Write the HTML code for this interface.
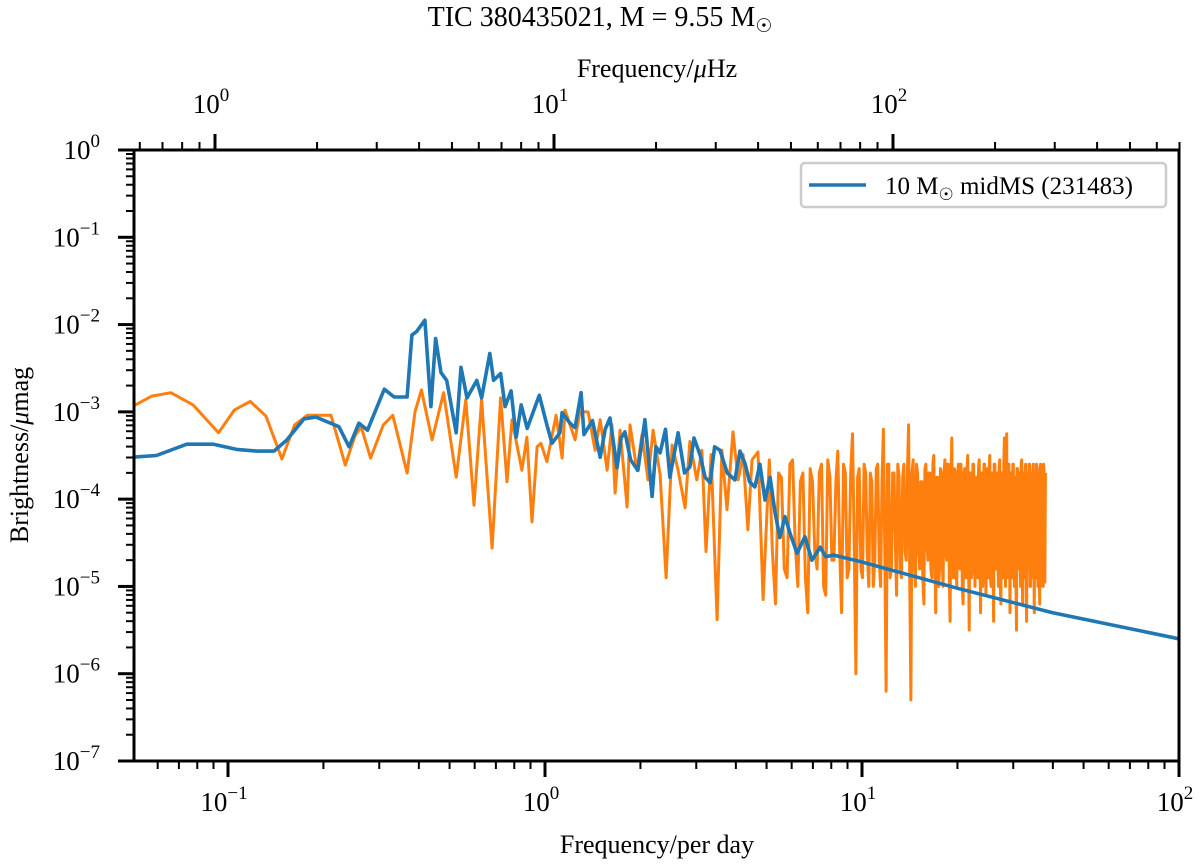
<!DOCTYPE html>
<html><head><meta charset="utf-8"><style>
html,body{margin:0;padding:0;background:#fff;}
svg{display:block;font-family:"Liberation Serif","DejaVu Serif",serif;}
</style></head><body>
<svg id="chart" width="1200" height="864" viewBox="0 0 1200 864" xmlns="http://www.w3.org/2000/svg">
<text x="600" y="26" text-anchor="middle" font-size="28">TIC 380435021, M = 9.55 M<tspan font-size="19" dy="6">☉</tspan></text>
<text x="657" y="77" text-anchor="middle" font-size="26">Frequency/<tspan font-style="italic">μ</tspan>Hz</text>
<text x="657" y="853" text-anchor="middle" font-size="26">Frequency/per day</text>
<text transform="translate(28,455) rotate(-90)" text-anchor="middle" font-size="26">Brightness/<tspan font-style="italic">μ</tspan>mag</text>
<defs><clipPath id="plotclip"><rect x="134" y="150" width="1045" height="611"/></clipPath></defs>
<g id="series" clip-path="url(#plotclip)"></g>
<g id="axes"></g>
<g>
<rect x="801" y="163" width="365" height="44" rx="4" fill="#fff" stroke="#cccccc" stroke-width="2.5"/>
<line x1="809" y1="185" x2="866" y2="185" stroke="#1f77b4" stroke-width="3.5"/>
<text x="885" y="194" font-size="25">10 M<tspan font-size="17" dy="6">☉</tspan><tspan dy="-6"> midMS (231483)</tspan></text>
</g>
</svg>
<script>
// ---- data (log10 units: per-day frequency, μmag amplitude) ----
const orangeLowLogF = [-1.297,-1.24,-1.18,-1.11,-1.03,-0.98,-0.93,-0.88,-0.83,-0.79,-0.75,-0.675,-0.63,-0.6,-0.58,-0.55,-0.51,-0.48,-0.435,-0.41,-0.39,-0.356,-0.32,-0.28,-0.25,-0.224,-0.2,-0.167,-0.14,-0.12,-0.104,-0.073,-0.057,-0.041,-0.025,-0.013,
0.006,0.035,0.054,0.063,0.095,0.110,0.136,0.158,0.174,0.196,0.211,0.221,0.237,0.259,0.268,0.290,0.306,0.325,0.341,0.363,0.382,0.401,0.420,0.442,0.457,0.479,0.495,0.508,0.524,0.543,0.558,0.574,0.593,0.609,0.625,0.640,0.653,0.672,0.688];
const orangeLowLogA = [-2.93,-2.82,-2.78,-2.92,-3.24,-2.98,-2.88,-3.05,-3.54,-3.15,-3.04,-3.04,-3.61,-3.28,-3.17,-3.53,-3.15,-3.04,-3.70,-3.0,-2.75,-3.32,-2.78,-3.75,-2.86,-4.07,-2.86,-4.56,-2.84,-3.80,-3.09,-3.67,-3.29,-4.26,-3.40,-3.36,
-3.57,-3.04,-3.53,-2.98,-3.32,-3.00,-3.00,-3.44,-3.09,-3.67,-3.15,-3.93,-3.21,-4.09,-3.15,-3.67,-3.26,-3.78,-3.21,-3.72,-4.90,-3.38,-3.67,-4.10,-3.34,-3.78,-3.44,-4.60,-3.49,-5.38,-3.44,-4.12,-3.23,-3.78,-3.49,-4.35,-3.55,-3.46,-5.15];
const orangeHiStartF = 5.1;
const orangeHiStepF = 0.1175;
// two interleaved sample sets: A at even grid points, B at odd grid points
const orangeHiLogA = [-3.55,-5.2,-3.75,-4.9,-3.55,-5.0,-3.7,-5.3,-3.8,-4.8,-3.6,-5.1,-3.75,-4.7,-3.45,-5.3,-3.7,-4.8,-3.25,-6.0,
-3.65,-4.9,-3.7,-5.0,-3.8,-4.7,-3.6,-5.0,-3.2,-6.2,-3.6,-4.8,-3.7,-5.1,-3.75,-4.9,-3.6,-4.7,-3.15,-6.3,
-3.55,-5.0,-3.7,-4.8,-3.8,-5.2,-3.6,-4.7,-3.7,-4.9,-3.5,-5.3,-3.75,-4.8,-3.7,-5.0,-3.55,-4.7,-3.6,-5.4,
-3.3,-4.9,-3.7,-5.0,-3.6,-4.8,-3.75,-5.2,-3.65,-4.9,-3.5,-5.5,-3.7,-4.8,-3.6,-5.0,-3.75,-4.9,-3.55,-5.3,
-3.7,-4.8,-3.6,-5.1,-3.65,-4.9,-3.5,-5.0,-3.7,-5.4,-3.6,-4.8,-3.7,-5.0,-3.55,-5.2,-3.7,-4.9,-3.3,-5.0,
-3.25,-4.8,-3.6,-5.3,-3.7,-4.9,-3.6,-5.0,-3.75,-5.5,-3.65,-4.8,-3.7,-5.0,-3.55,-5.2,-3.7,-4.9,-3.6,-5.4,
-3.75,-4.8,-3.6,-5.0,-3.7,-4.9,-3.6,-5.3,-3.7,-4.9,-3.65,-5.0,-3.7,-5.2,-3.6,-4.8,-3.65,-5.0,-3.7,-4.95];
const orangeHiLogB = [-4.6,-3.7,-4.8,-3.6,-4.5,-3.8,-4.9,-3.65,-4.6,-3.7,-5.0,-3.55,-4.7,-3.8,-4.6,-3.6,-4.9,-3.7,-4.5,-3.75,
-4.8,-3.6,-4.6,-3.7,-5.0,-3.65,-4.7,-3.8,-4.6,-3.6,-4.9,-3.7,-4.5,-3.6,-4.8,-3.75,-4.6,-3.65,-5.0,-3.7,
-4.7,-3.6,-4.6,-3.8,-4.9,-3.65,-4.5,-3.7,-4.8,-3.6,-4.6,-3.75,-5.0,-3.65,-4.7,-3.7,-4.6,-3.6,-4.9,-3.75,
-4.5,-3.65,-4.8,-3.7,-4.6,-3.6,-5.0,-3.75,-4.7,-3.65,-4.6,-3.7,-4.9,-3.6,-4.5,-3.75,-4.8,-3.65,-4.6,-3.7,
-5.0,-3.6,-4.7,-3.75,-4.6,-3.65,-4.9,-3.7,-4.5,-3.6,-4.8,-3.75,-4.6,-3.65,-5.0,-3.7,-4.7,-3.6,-4.6,-3.75,
-4.9,-3.65,-4.5,-3.7,-4.8,-3.6,-4.6,-3.75,-5.0,-3.65,-4.7,-3.7,-4.6,-3.6,-4.9,-3.75,-4.5,-3.65,-4.8,-3.7,
-4.6,-3.6,-5.0,-3.75,-4.7,-3.65,-4.6,-3.7,-4.9,-3.6,-4.5,-3.75,-4.8,-3.65,-4.6,-3.7,-5.0,-3.6,-4.7,-3.7];
const blueLogF = [-1.301,-1.226,-1.13,-1.046,-0.973,-0.91,-0.855,-0.814,-0.76,-0.722,-0.65,-0.618,-0.587,-0.56,-0.507,-0.476,-0.435,-0.42,-0.405,-0.379,-0.36,-0.345,-0.328,-0.31,-0.28,-0.265,-0.246,-0.215,-0.2,-0.174,-0.162,-0.14,-0.126,-0.107,-0.091,-0.075,-0.056,-0.018,
0.006,0.022,0.047,0.054,0.079,0.095,0.114,0.123,0.15,0.174,0.19,0.205,0.227,0.24,0.252,0.27,0.293,0.315,0.338,0.35,0.363,0.38,0.394,0.420,0.44,0.457,0.47,0.489,0.505,0.521,0.535,0.552,0.575,0.599,0.615,0.631,0.645,0.662,0.678,0.694,0.71,0.726,0.741,0.757,0.773,0.795,0.82,0.842,0.868,0.886,0.909,1.0,1.3,1.6,2.0];
const blueLogA = [-3.52,-3.50,-3.37,-3.37,-3.43,-3.45,-3.45,-3.32,-3.08,-3.06,-3.17,-3.40,-3.13,-3.21,-2.74,-2.83,-2.83,-2.12,-2.08,-1.95,-2.94,-2.16,-2.55,-2.64,-3.24,-2.49,-2.84,-2.64,-2.84,-2.33,-2.64,-2.56,-2.94,-2.76,-3.29,-2.92,-3.19,-2.81,
-3.15,-3.36,-3.24,-3.01,-3.13,-3.18,-2.78,-3.26,-3.1,-3.52,-3.2,-3.07,-3.64,-3.3,-3.23,-3.55,-3.67,-3.09,-3.97,-3.4,-3.47,-3.2,-3.75,-3.24,-3.7,-3.63,-3.3,-3.49,-3.75,-3.81,-3.4,-3.44,-3.7,-3.78,-3.45,-3.59,-3.8,-3.86,-3.6,-4.01,-3.75,-4.16,-4.44,-4.20,-4.39,-4.62,-4.43,-4.70,-4.55,-4.66,-4.64,-4.72,-5.02,-5.30,-5.60];
const xTickLabels = ["−1","0","1","2"];
const xTickExps = [-1,0,1,2];
const topTickExps = [0,1,2];
const yTickExps = [0,-1,-2,-3,-4,-5,-6,-7];

// ---- axis functions ----
const L=134,R=1179,T=150,B=761;
const X0=228, XD=317;
const TX0=215, TXD=339;
const YD=(B-T)/7;
const xs = lf => X0 + (lf+1)*XD;
const ys = la => T - la*YD;
const NS="http://www.w3.org/2000/svg";
function mk(tag, attrs, parent){const e=document.createElementNS(NS,tag);for(const k in attrs)e.setAttribute(k,attrs[k]);parent.appendChild(e);return e;}
const series=document.getElementById('series');
const axes=document.getElementById('axes');

// orange
let op=[];
for(let i=0;i<orangeLowLogF.length;i++) op.push([xs(orangeLowLogF[i]),ys(orangeLowLogA[i])]);
for(let i=0;i<orangeHiLogA.length;i++){
  const fa=orangeHiStartF+(2*i)*orangeHiStepF;op.push([xs(Math.log10(fa)),ys(orangeHiLogA[i])]);
  const fb=orangeHiStartF+(2*i+1)*orangeHiStepF;op.push([xs(Math.log10(fb)),ys(orangeHiLogB[i])]);
}
const orangeLine=mk('path',{d:'M'+op.map(p=>p[0].toFixed(1)+','+p[1].toFixed(1)).join('L'),fill:'none',stroke:'#ff7f0e','stroke-width':3,'stroke-linejoin':'round'},series);


// blue
let bp=[];
for(let i=0;i<blueLogF.length;i++) bp.push([xs(blueLogF[i]),ys(blueLogA[i])]);
const blueLine=mk('path',{d:'M'+bp.map(p=>p[0].toFixed(1)+','+p[1].toFixed(1)).join('L'),fill:'none',stroke:'#1f77b4','stroke-width':3.6,'stroke-linejoin':'round'},series);



// frame
const frame=mk('rect',{x:L,y:T,width:R-L,height:B-T,fill:'none',stroke:'#000','stroke-width':3},axes);



// bottom ticks
for(let d=-2;d<=2;d++){for(let m=1;m<=9;m++){const lf=d+Math.log10(m);const x=xs(lf);if(x<L-0.5||x>R+0.5)continue;
 const len=m===1?16:8;const t=mk('line',{x1:x,y1:B,x2:x,y2:B+len,stroke:'#000','stroke-width':m===1?3:2},axes);
 
 }}
xTickExps.forEach((e,i)=>{const x=xs(e);const t=mk('text',{x:x-4,y:811,'text-anchor':'middle','font-size':27},axes);
 
 
 t.innerHTML='10<tspan font-size="19" dy="-12">'+xTickLabels[i]+'</tspan>';});
// top ticks (μHz)
const txs = lf => TX0 + lf*TXD;
for(let d=-1;d<=3;d++){for(let m=1;m<=9;m++){const lf=d+Math.log10(m);const x=txs(lf);if(x<L-0.5||x>R+0.5)continue;
 const len=m===1?16:8;const t=mk('line',{x1:x,y1:T,x2:x,y2:T-len,stroke:'#000','stroke-width':m===1?3:2},axes);
 
 }}
topTickExps.forEach(e=>{const x=txs(e);const t=mk('text',{x:x-4,y:113,'text-anchor':'middle','font-size':27},axes);
 
 
 t.innerHTML='10<tspan font-size="19" dy="-12">'+e+'</tspan>';});
// y ticks
for(let d=-7;d<=0;d++){for(let m=1;m<=9;m++){const la=d+Math.log10(m);if(la>0.001)continue;const y=ys(la);
 const len=m===1?16:8;const t=mk('line',{x1:L,y1:y,x2:L-len,y2:y,stroke:'#000','stroke-width':m===1?3:2},axes);
 
 }}
yTickExps.forEach(e=>{const y=ys(e);const t=mk('text',{x:100,y:y+9,'text-anchor':'end','font-size':27},axes);
 
 
 t.innerHTML='10<tspan font-size="19" dy="-12">'+(e<0?'−'+(-e):e)+'</tspan>';});
</script>
</body></html>
